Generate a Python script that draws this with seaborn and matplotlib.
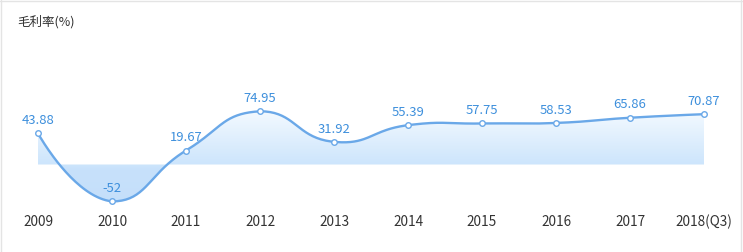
import numpy as np
import pandas as pd
import matplotlib
matplotlib.use("Agg")
import matplotlib.pyplot as plt
import seaborn as sns
from matplotlib.colors import LinearSegmentedColormap
from matplotlib.lines import Line2D

# ---- data ----
years = ["2009", "2010", "2011", "2012", "2013", "2014", "2015", "2016", "2017", "2018(Q3)"]
margin = [43.88, -52, 19.67, 74.95, 31.92, 55.39, 57.75, 58.53, 65.86, 70.87]
title_text = "毛利率(%)"

df = pd.DataFrame({"year": years, "margin": margin, "idx": np.arange(len(years))})

sns.set_theme(style="white")
plt.rcParams["font.family"] = ["Noto Sans CJK SC", "DejaVu Sans"]

W, H = 743, 252
fig = plt.figure(figsize=(W / 100, H / 100), dpi=100)
fig.patch.set_facecolor("white")

# axes placement (pixel based)
top_px, bot_px = 40, 205
ax = fig.add_axes([0, (H - bot_px) / H, 1, (bot_px - top_px) / H])
x0_px, step_px = 38, 74
zero_px, sy = 164.5, 0.71
ax.set_xlim(-x0_px / step_px, (W - x0_px) / step_px)
ax.set_ylim((zero_px - bot_px) / sy, (zero_px - top_px) / sy)
ax.set_facecolor("none")
for s in ax.spines.values():
    s.set_visible(False)


def smooth_curve(xs, ys, sx, sy, smooth=0.5, n=40):
    """zrender smoothBezier (with bounding-box constraint) in pixel space."""
    P = np.column_stack([np.asarray(xs, float) * sx, np.asarray(ys, float) * sy])
    lo, hi = P.min(axis=0), P.max(axis=0)
    m = len(P)
    cps_out, cps_in = [], []
    for i in range(m):
        if i == 0 or i == m - 1:
            cps_in.append(P[i].copy())
            cps_out.append(P[i].copy())
            continue
        prev, nxt = P[i - 1], P[i + 1]
        v = (nxt - prev) * smooth
        d0 = np.linalg.norm(P[i] - prev)
        d1 = np.linalg.norm(nxt - P[i])
        tot = d0 + d1
        if tot > 0:
            d0, d1 = d0 / tot, d1 / tot
        c0 = np.clip(P[i] - v * d0, lo, hi)
        c1 = np.clip(P[i] + v * d1, lo, hi)
        cps_in.append(c0)
        cps_out.append(c1)
    pts = []
    t = np.linspace(0, 1, n)[:, None]
    for i in range(m - 1):
        a, b, c, d = P[i], cps_out[i], cps_in[i + 1], P[i + 1]
        seg = (1 - t) ** 3 * a + 3 * (1 - t) ** 2 * t * b + 3 * (1 - t) * t ** 2 * c + t ** 3 * d
        pts.append(seg if i == 0 else seg[1:])
    pts = np.vstack(pts)
    return pts[:, 0] / sx, pts[:, 1] / sy


cx, cy = smooth_curve(df["idx"], df["margin"], step_px, sy)

# gradient area fill
ymin, ymax = -60, 80
cmap = LinearSegmentedColormap.from_list(
    "g", [(0.0, "#c4dffa"), (52 / 140, "#c7e1fb"), (60 / 140, "#cde5fc"), (1.0, "#f6fbff")]
)
grad = np.linspace(0, 1, 256)[:, None]
im = ax.imshow(grad, extent=[cx.min(), cx.max(), ymin, ymax], origin="lower",
               aspect="auto", cmap=cmap, zorder=1)
poly = ax.fill_between(cx, cy, 0, color="none", lw=0)
clip = poly.get_paths()[0]
im.set_clip_path(clip, transform=ax.transData)

# line + markers
ax.plot(cx, cy, color="#6aa8e8", lw=1.7, zorder=3, solid_capstyle="round")
sns.scatterplot(data=df, x="idx", y="margin", ax=ax, s=16, color="white",
                edgecolor="#6aa8e8", linewidth=1.0, zorder=4, legend=False)

# value labels
for i, v in zip(df["idx"], df["margin"]):
    lab = f"{v:g}"
    ax.annotate(lab, (i, v), xytext=(0, 4.5), textcoords="offset points",
                ha="center", va="bottom", fontsize=9.4, color="#3d8fdc", zorder=5)

# x tick labels
ax.set_xticks(df["idx"])
ax.set_xticklabels(years, fontsize=9.8, color="#333333")
ax.tick_params(axis="x", length=0, pad=7)
ax.set_yticks([])
ax.set_xlabel("")
ax.set_ylabel("")

# title
fig.text(17 / W, 1 - 22 / H, title_text, fontsize=9, color="#333333", ha="left", va="center")

# border lines (top, left, right)
fig.add_artist(Line2D([0, 1], [1 - 0.5 / H, 1 - 0.5 / H], transform=fig.transFigure, color="#e4e4e4", lw=1))
fig.add_artist(Line2D([0.5 / W, 0.5 / W], [0, 1], transform=fig.transFigure, color="#e4e4e4", lw=1))
fig.add_artist(Line2D([740.5 / W, 740.5 / W], [0, 1], transform=fig.transFigure, color="#e4e4e4", lw=1))

fig.savefig("out.png", dpi=100, facecolor="white")
